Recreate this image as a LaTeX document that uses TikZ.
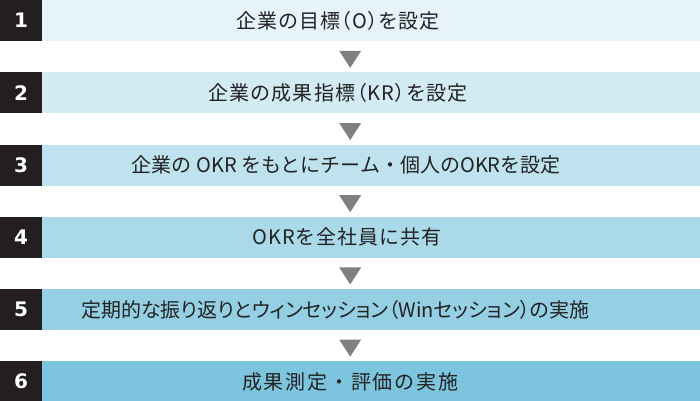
\documentclass[tikz,border=0pt]{standalone}
\usepackage{fontspec}
\newfontfamily\jpfont{Noto Sans CJK JP}
\newfontfamily\numfont{DejaVu Sans}
\usepackage{tikz}
\usetikzlibrary{shapes.geometric, positioning, calc}
\definecolor{numdark}{HTML}{231F20}
\definecolor{textdark}{HTML}{222222}
\definecolor{arrowgray}{HTML}{7F8181}
\definecolor{stepone}{HTML}{E6F3FA}
\definecolor{steptwo}{HTML}{D3EBF3}
\definecolor{stepthree}{HTML}{BFE3EE}
\definecolor{stepfour}{HTML}{AAD9E9}
\definecolor{stepfive}{HTML}{94CFE3}
\definecolor{stepsix}{HTML}{7DC4DE}
% letter spacing of one step text
\newcommand{\track}[1]{\addfontfeature{LetterSpace=#1}}
\newcommand{\narrow}{\addfontfeature{RawFeature=+palt}}

\begin{document}
\begin{tikzpicture}[
      x=1pt, y=1pt,
      node distance = 30.8pt,
      stepbar/.style = {
        rectangle, minimum width=700pt, minimum height=41pt, inner sep=0pt,
        font=\jpfont\fontsize{20}{24}\selectfont, text=textdark
      },
      numbox/.style = {
        rectangle, fill=numdark, minimum width=42pt, minimum height=41pt,
        inner sep=0pt, font=\numfont\bfseries\fontsize{20}{22}\selectfont, text=white
      },
      downarr/.style = {
        isosceles triangle, isosceles triangle stretches, shape border rotate=270,
        fill=arrowgray, inner sep=0pt, minimum height=17pt, minimum width=22pt
      }
    ]
      \useasboundingbox (0,0) rectangle (700,-400);

      % ===================== Step bars =====================
      \node[stepbar, fill=stepone, anchor=north west] (s1) at (0,0)
        {\narrow\track{5}企業の目標（O）を設定\hspace*{24pt}};
      \node[stepbar, fill=steptwo, below=of s1]   (s2)
        {\narrow\track{6}企業の成果指標（KR）を設定\hspace*{24pt}};
      \node[stepbar, fill=stepthree, below=of s2] (s3)
        {企業の OKR をもとにチーム・個人のOKRを設定\hspace*{8pt}};
      \node[stepbar, fill=stepfour, below=of s3]  (s4)
        {\track{5}OKRを全社員に共有\hspace*{6pt}};
      \node[stepbar, fill=stepfive, below=of s4]  (s5)
        {\narrow 定期的な振り返りとウィンセッション（Winセッション）の実施\hspace*{30pt}};
      \node[stepbar, fill=stepsix, below=of s5]   (s6)
        {\track{9}成果測定・評価の実施};

      % ===================== Step numbers =====================
      \foreach \i in {1,...,6}
        \node[numbox, anchor=west] (n\i) at (s\i.west) {\i};

      % ===================== Arrows between steps =====================
      \foreach \i [evaluate=\i as \j using int(\i+1)] in {1,...,5}
        \node[downarr] (a\i) at ($(s\i.south)!0.5!(s\j.north)$) {};

    \end{tikzpicture}
\end{document}
